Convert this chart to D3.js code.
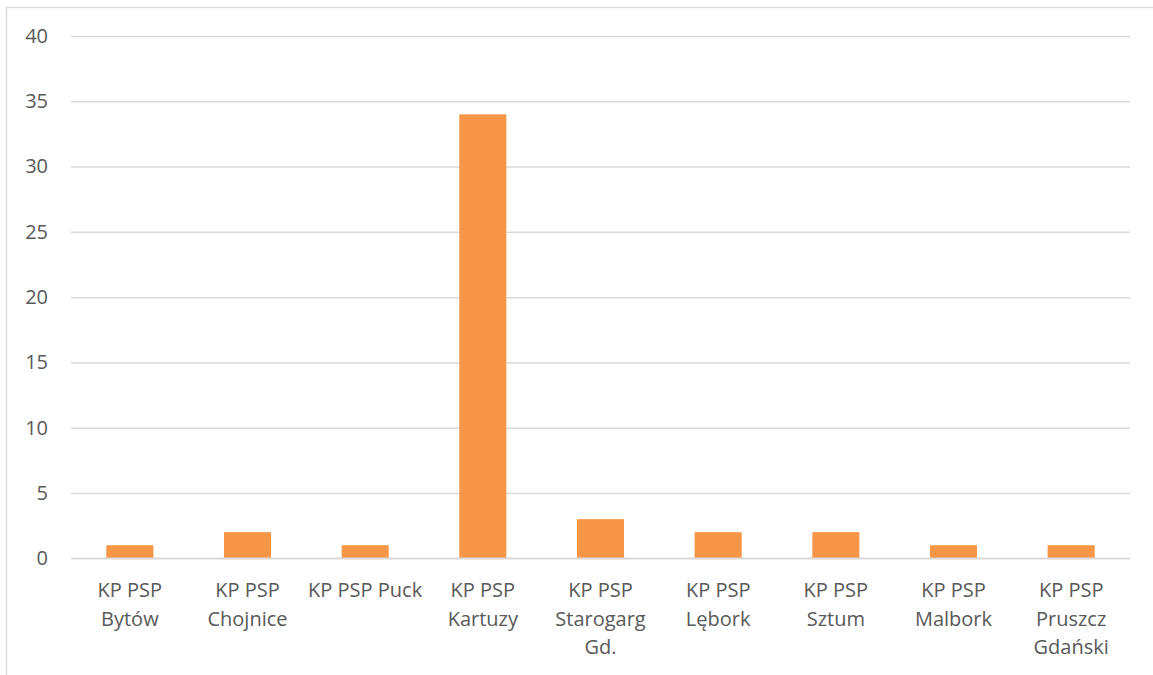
<!DOCTYPE html>
<html><head><meta charset="utf-8">
<script src="https://cdn.jsdelivr.net/npm/d3@7"></script>
<style>html,body{margin:0;padding:0;background:#fff;}svg{display:block;}</style>
</head><body>
<script>
const categories = ["KP PSP\nBytów","KP PSP\nChojnice","KP PSP Puck","KP PSP\nKartuzy","KP PSP\nStarogarg\nGd.","KP PSP\nLębork","KP PSP\nSztum","KP PSP\nMalbork","KP PSP\nPruszcz\nGdański"];
const values = [1,2,1,34,3,2,2,1,1];
const yTicks = [0,5,10,15,20,25,30,35,40];

const W = 1153, H = 675;
const m = {left:71, right:1130, top:36, bottom:558.3};
const svg = d3.select("body").append("svg").attr("width",W).attr("height",H);

svg.append("rect").attr("x",6.5).attr("y",7.5).attr("width",1300).attr("height",800)
  .attr("fill","none").attr("stroke","#d9d9d9").attr("stroke-width",1.3);

const x = d3.scaleBand().domain(categories).range([m.left,m.right]).paddingInner(0.6).paddingOuter(0.3);
const y = d3.scaleLinear().domain([0,40]).range([m.bottom,m.top]);

const font = "'Open Sans', sans-serif";
const fs = "20px";
const gy = svg.append("g").attr("transform",`translate(${m.left},0)`)
  .call(d3.axisLeft(y).tickValues(yTicks).tickSize(-(m.right-m.left)).tickPadding(23).tickFormat(d3.format("d")));
gy.select(".domain").remove();
gy.selectAll(".tick line").attr("stroke","#d9d9d9").attr("stroke-width",1.5);
gy.selectAll(".tick text").attr("fill","#595959").style("font-family",font).style("font-size",fs);

svg.append("g").selectAll("rect").data(values).join("rect")
  .attr("x",(d,i)=>x(categories[i])).attr("width",x.bandwidth())
  .attr("y",d=>y(d)).attr("height",d=>y(0)-y(d)).attr("fill","#f79646");

svg.append("line").attr("x1",m.left).attr("x2",m.right).attr("y1",y(0)).attr("y2",y(0))
  .attr("stroke","#d9d9d9").attr("stroke-width",1.5);

const gx = svg.append("g").attr("transform",`translate(0,${m.bottom})`)
  .call(d3.axisBottom(x).tickSize(0).tickFormat(""));
gx.select(".domain").remove();
gx.selectAll(".tick").each(function(d){
  const t = d3.select(this).append("text").attr("fill","#595959").attr("text-anchor","middle")
    .style("font-family",font).style("font-size",fs);
  d.split("\n").forEach((line,i)=>{
    t.append("tspan").attr("x",0).attr("y",39+i*28.5).text(line);
  });
});
</script>
</body></html>
